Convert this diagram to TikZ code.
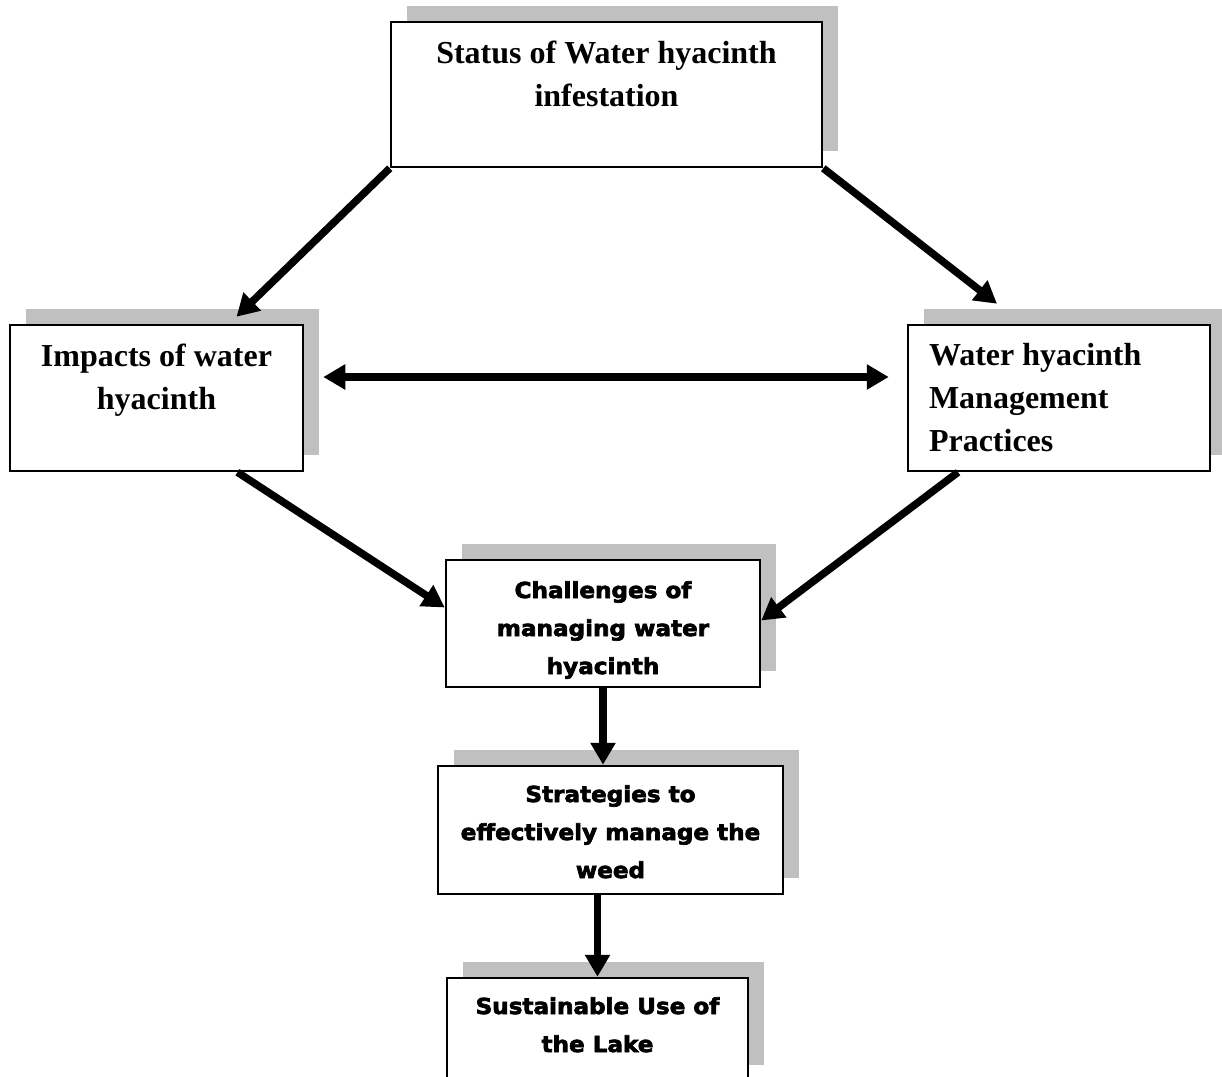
\documentclass[tikz,border=0pt]{standalone}
\usepackage{fontspec}
\setmainfont{Liberation Serif}
\newfontfamily\heavysans[FakeStretch=1.05,BoldFeatures={FakeBold=3}]{DejaVu Sans}
\usepackage{tikz}
\usetikzlibrary{arrows.meta, calc, shadows}
\definecolor{shadowgray}{HTML}{C0C0C0}
\definecolor{blkline}{HTML}{000000}
\definecolor{blkfill}{HTML}{FFFFFF}
\tikzset{
  blk/.style    = {rectangle, draw=blkline, fill=blkfill, line width=2.5pt, inner sep=0pt,
                   drop shadow={shadow xshift=16pt, shadow yshift=16pt, fill=shadowgray, opacity=1}},
  serifblk/.style= {blk, font=\fontsize{32}{43}\selectfont\bfseries},
  sansblk/.style = {blk, font=\heavysans\bfseries\fontsize{22}{38}\selectfont},
  flow/.style   = {-{Triangle[length=22pt, width=24pt]}, line width=7.5pt},
  twoway/.style = {{Triangle[length=22pt, width=24pt]}-{Triangle[length=22pt, width=24pt]}, line width=7.5pt},
}
\newcommand{\ctext}[4]{\parbox[c][#2][t]{#1}{\centering\rule{0pt}{#3}#4}}
\newcommand{\ltext}[4]{\parbox[c][#2][t]{#1}{\raggedright\leftskip=21pt\rule{0pt}{#3}#4}}

\begin{document}
\begin{tikzpicture}[x=1pt, y=-1pt]
	\useasboundingbox (0,0) rectangle (1222,1076);
	\node[serifblk] (status) at (606.5,94.5)
	{\ctext{431pt}{145pt}{41pt}{Status of Water hyacinth\\infestation}};
	\node[serifblk] (impacts) at (156.5,398)
	{\ctext{293pt}{146pt}{41pt}{Impacts of water\\hyacinth}};
	\node[serifblk] (practices) at (1059,398)
	{\ltext{302pt}{146pt}{40pt}{Water hyacinth\\Management\\Practices}};
	\node[sansblk] (challenges) at (603,623.5)
	{\ctext{314pt}{127pt}{38pt}{Challenges of\\managing water\\hyacinth}};
	\node[sansblk] (strategies) at (610.5,830)
	{\ctext{345pt}{128pt}{36pt}{Strategies to\\effectively manage the\\weed}};
	\node[sansblk] (lake) at (597.5,1029.5)
	{\ctext{301pt}{103pt}{36pt}{Sustainable Use of\\the Lake}};

	\draw[flow] (status.south west) -- ($(impacts.north)+(80,-7)$);
	\draw[flow] (status.south east) -- ($(practices.north)+(-62,-20)$);
	\draw[twoway] ($(impacts.east)+(19,-21)$) -- ($(practices.west)+(-18,-21)$);
	\draw[flow] ($(impacts.south)+(81,0)$) -- ($(challenges.west)+(0,-16)$);
	\draw[flow] ($(practices.south)+(-101,0)$) -- ($(challenges.east)+(0,-3)$);
	\draw[flow] (challenges.south) -- (challenges.south |- strategies.north);
	\draw[flow] (lake.north |- strategies.south) -- (lake.north);
\end{tikzpicture}
\end{document}
